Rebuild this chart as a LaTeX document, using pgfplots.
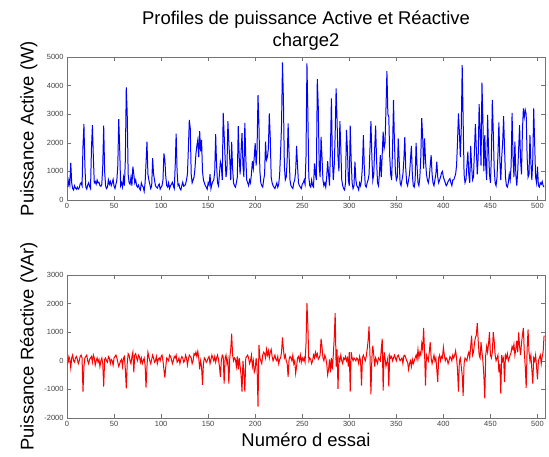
\documentclass[border=0pt]{standalone}
\usepackage{fontspec}
\setmainfont{Liberation Sans}
\usepackage{pgfplots}
\usepackage{pgfplotstable}
\pgfplotsset{compat=1.18}

% puissance active (W), essais 1..507
\pgfplotstableread[header=false,row sep=\\]{
450\\ 700\\ 520\\ 1300\\ 600\\ 400\\ 350\\ 500\\ 420\\ 380\\
450\\ 380\\ 420\\ 560\\ 600\\ 500\\ 1900\\ 2650\\ 1200\\ 450\\
380\\ 520\\ 600\\ 480\\ 400\\ 1800\\ 2620\\ 1500\\ 600\\ 650\\
550\\ 700\\ 600\\ 620\\ 500\\ 480\\ 550\\ 1200\\ 2600\\ 1000\\
500\\ 400\\ 450\\ 700\\ 550\\ 650\\ 500\\ 600\\ 720\\ 480\\
400\\ 550\\ 700\\ 1200\\ 2830\\ 1800\\ 500\\ 600\\ 450\\ 780\\
500\\ 1400\\ 3940\\ 3000\\ 900\\ 600\\ 550\\ 800\\ 500\\ 1170\\
900\\ 600\\ 700\\ 500\\ 450\\ 520\\ 400\\ 350\\ 600\\ 500\\
450\\ 300\\ 600\\ 1300\\ 2040\\ 900\\ 700\\ 550\\ 400\\ 500\\
1460\\ 900\\ 700\\ 500\\ 450\\ 420\\ 500\\ 560\\ 380\\ 450\\
500\\ 700\\ 1630\\ 1400\\ 800\\ 500\\ 450\\ 600\\ 400\\ 500\\
550\\ 620\\ 500\\ 400\\ 1200\\ 2320\\ 1000\\ 500\\ 550\\ 400\\
350\\ 500\\ 620\\ 480\\ 500\\ 550\\ 700\\ 900\\ 1800\\ 2800\\
2500\\ 900\\ 600\\ 700\\ 800\\ 1100\\ 1600\\ 1900\\ 2100\\ 1500\\
2410\\ 1700\\ 2100\\ 1000\\ 700\\ 600\\ 500\\ 450\\ 380\\ 600\\
520\\ 900\\ 400\\ 550\\ 650\\ 700\\ 1000\\ 2300\\ 1200\\ 600\\
500\\ 900\\ 1340\\ 1200\\ 700\\ 3050\\ 2300\\ 1500\\ 800\\ 1100\\
2760\\ 2000\\ 1400\\ 700\\ 2030\\ 1100\\ 600\\ 500\\ 450\\ 600\\
800\\ 2580\\ 1500\\ 900\\ 1700\\ 2340\\ 1200\\ 800\\ 2700\\ 1500\\
700\\ 600\\ 500\\ 700\\ 600\\ 900\\ 1360\\ 1100\\ 1500\\ 1990\\
1200\\ 1800\\ 3670\\ 2600\\ 1000\\ 600\\ 500\\ 450\\ 700\\ 900\\
2040\\ 1400\\ 1500\\ 1800\\ 3030\\ 2200\\ 800\\ 600\\ 500\\ 450\\
400\\ 500\\ 600\\ 450\\ 550\\ 900\\ 1700\\ 2620\\ 4810\\ 3500\\
1200\\ 700\\ 800\\ 1400\\ 2680\\ 1600\\ 700\\ 500\\ 450\\ 400\\
600\\ 700\\ 1000\\ 1890\\ 1200\\ 600\\ 500\\ 450\\ 400\\ 550\\
600\\ 700\\ 550\\ 1500\\ 4780\\ 3000\\ 800\\ 500\\ 450\\ 700\\
500\\ 450\\ 1280\\ 900\\ 700\\ 4230\\ 3320\\ 1200\\ 800\\ 2210\\
1500\\ 700\\ 500\\ 600\\ 450\\ 800\\ 1360\\ 900\\ 500\\ 1800\\
3550\\ 1500\\ 700\\ 1200\\ 2300\\ 3900\\ 2790\\ 1500\\ 1000\\ 2760\\
1800\\ 700\\ 500\\ 400\\ 350\\ 600\\ 2450\\ 1800\\ 700\\ 500\\
2600\\ 1400\\ 600\\ 400\\ 500\\ 1340\\ 700\\ 500\\ 450\\ 350\\
600\\ 500\\ 700\\ 1200\\ 2270\\ 1100\\ 500\\ 450\\ 600\\ 700\\
900\\ 1800\\ 2760\\ 1500\\ 700\\ 900\\ 1800\\ 2600\\ 1400\\ 600\\
500\\ 900\\ 1570\\ 800\\ 1600\\ 2390\\ 1800\\ 2000\\ 3200\\ 4510\\
3000\\ 2910\\ 1500\\ 900\\ 700\\ 1800\\ 3500\\ 2000\\ 1000\\ 700\\
800\\ 2150\\ 1400\\ 600\\ 500\\ 700\\ 900\\ 1400\\ 2210\\ 1100\\
600\\ 500\\ 700\\ 900\\ 1400\\ 1890\\ 900\\ 500\\ 450\\ 700\\
2000\\ 1200\\ 600\\ 500\\ 800\\ 1500\\ 2860\\ 2200\\ 1100\\ 2150\\
1400\\ 900\\ 700\\ 600\\ 800\\ 1200\\ 1570\\ 900\\ 600\\ 500\\
700\\ 900\\ 1340\\ 800\\ 600\\ 700\\ 800\\ 950\\ 1000\\ 800\\
700\\ 600\\ 500\\ 550\\ 650\\ 700\\ 750\\ 600\\ 500\\ 700\\
700\\ 800\\ 900\\ 1200\\ 2000\\ 3030\\ 2390\\ 1500\\ 2500\\ 4720\\
2800\\ 900\\ 600\\ 700\\ 1200\\ 1690\\ 900\\ 600\\ 1890\\ 1200\\
700\\ 800\\ 1700\\ 2650\\ 1800\\ 900\\ 1500\\ 3350\\ 2400\\ 1200\\
4100\\ 2800\\ 1000\\ 2270\\ 1200\\ 700\\ 2980\\ 1800\\ 900\\ 600\\
1500\\ 3500\\ 2390\\ 1100\\ 600\\ 500\\ 800\\ 1600\\ 2710\\ 1400\\
700\\ 1500\\ 2000\\ 2930\\ 1800\\ 800\\ 500\\ 450\\ 600\\ 900\\
700\\ 1200\\ 3050\\ 1500\\ 800\\ 2040\\ 900\\ 500\\ 1000\\ 1800\\
2620\\ 1400\\ 900\\ 2400\\ 3200\\ 2900\\ 3150\\ 3000\\ 1500\\ 800\\
900\\ 2270\\ 1300\\ 700\\ 1400\\ 3200\\ 2000\\ 800\\ 600\\ 1170\\
500\\ 450\\ 600\\ 550\\ 650\\ 500\\ 450\\
}\Ptab

% puissance reactive (VAr), essais 1..507
\pgfplotstableread[header=false,row sep=\\]{
-100\\ 150\\ 50\\ -250\\ 100\\ 200\\ 0\\ -50\\ 100\\ 150\\
50\\ -100\\ 0\\ 150\\ 200\\ 100\\ -1080\\ -200\\ 100\\ 150\\
200\\ 0\\ -100\\ 50\\ 100\\ 150\\ -50\\ 200\\ 100\\ -150\\
0\\ 100\\ -50\\ 50\\ -200\\ 0\\ 100\\ -100\\ -900\\ 50\\
100\\ 0\\ -50\\ 150\\ 100\\ -100\\ 50\\ 0\\ -150\\ 100\\
150\\ 200\\ 100\\ -50\\ -200\\ -100\\ 0\\ 50\\ -200\\ 100\\
150\\ -300\\ -960\\ -100\\ 250\\ 200\\ 0\\ -100\\ 150\\ 300\\
-400\\ 200\\ 250\\ 100\\ 0\\ 200\\ 150\\ -50\\ 100\\ -100\\
0\\ 100\\ -150\\ -940\\ -200\\ 300\\ 150\\ 0\\ -100\\ 50\\
200\\ 100\\ -50\\ 0\\ 150\\ -100\\ 50\\ 100\\ 0\\ 150\\
200\\ 0\\ -300\\ -590\\ -200\\ 100\\ 50\\ 0\\ 200\\ 150\\
50\\ -100\\ 0\\ 150\\ 100\\ 200\\ -50\\ 0\\ 100\\ -100\\
50\\ 150\\ 100\\ -50\\ 0\\ 200\\ 100\\ -150\\ 50\\ 200\\
150\\ 100\\ -100\\ 0\\ 250\\ 200\\ 300\\ 150\\ 330\\ 100\\
-300\\ 0\\ -200\\ -840\\ -100\\ 100\\ 50\\ -50\\ 0\\ 100\\
150\\ -100\\ 50\\ 200\\ 100\\ 0\\ 150\\ -50\\ 100\\ 200\\
50\\ -200\\ -560\\ 0\\ 200\\ 150\\ -800\\ 100\\ 200\\ -100\\
50\\ -800\\ 100\\ 400\\ 950\\ 200\\ 0\\ 100\\ 50\\ -200\\
150\\ -300\\ 100\\ -200\\ -500\\ -1080\\ 0\\ -400\\ -1080\\ 100\\
150\\ 200\\ 100\\ -100\\ 0\\ 200\\ -200\\ 0\\ -400\\ -300\\
100\\ -200\\ -1600\\ 560\\ 100\\ 0\\ -100\\ 200\\ 300\\ 250\\
100\\ 400\\ 200\\ 350\\ 100\\ 300\\ 400\\ 150\\ 0\\ 100\\
200\\ 50\\ 0\\ 150\\ -100\\ 50\\ 100\\ 300\\ 820\\ 400\\
100\\ 200\\ 0\\ -100\\ -560\\ 50\\ 150\\ 100\\ 0\\ 200\\
-100\\ 0\\ -440\\ -200\\ 100\\ 150\\ 0\\ 200\\ -50\\ 100\\
0\\ 100\\ -50\\ 600\\ 2020\\ 1200\\ 0\\ 100\\ 50\\ -100\\
0\\ 200\\ 100\\ 300\\ 150\\ 250\\ 50\\ 100\\ 200\\ 770\\
500\\ 100\\ 0\\ 200\\ 100\\ -100\\ -490\\ -300\\ 50\\ -400\\
100\\ -300\\ 200\\ 800\\ 1670\\ -200\\ 400\\ -980\\ 100\\ 0\\
200\\ 0\\ -100\\ 100\\ 50\\ 150\\ 0\\ 100\\ -200\\ 300\\
-1080\\ 300\\ 100\\ 0\\ 100\\ 50\\ 0\\ 100\\ 50\\ -100\\
150\\ 0\\ -870\\ 100\\ 200\\ 100\\ 0\\ 150\\ 400\\ 700\\
1200\\ 200\\ -1170\\ 100\\ 530\\ 200\\ -200\\ 100\\ 0\\ -100\\
100\\ 50\\ 0\\ 400\\ 770\\ -1040\\ 300\\ 100\\ -200\\ -50\\
100\\ -900\\ 200\\ 100\\ 150\\ 0\\ 100\\ 200\\ 100\\ 0\\
150\\ 200\\ 100\\ 0\\ 50\\ 100\\ -100\\ 180\\ 200\\ 100\\
0\\ -50\\ -300\\ -100\\ 0\\ -200\\ 50\\ -100\\ 0\\ 100\\
200\\ 50\\ 400\\ 100\\ 300\\ 200\\ 600\\ 400\\ 1150\\ 300\\
-870\\ 200\\ 100\\ 0\\ 300\\ 650\\ 100\\ -100\\ 50\\ 200\\
0\\ 100\\ -300\\ -740\\ 100\\ 200\\ 0\\ 150\\ 100\\ 470\\
200\\ 0\\ 100\\ 50\\ -100\\ 0\\ 150\\ 100\\ 0\\ 200\\
100\\ 200\\ 350\\ 100\\ -300\\ -1080\\ 0\\ 100\\ -200\\ -500\\
-1230\\ -100\\ 100\\ 50\\ 0\\ 200\\ 300\\ 100\\ 500\\ 880\\
200\\ 300\\ 600\\ 800\\ 900\\ 1320\\ 700\\ 200\\ 100\\ 650\\
300\\ 0\\ -500\\ -1310\\ 200\\ 500\\ 300\\ 600\\ 1000\\ 200\\
100\\ 300\\ 1000\\ 700\\ 200\\ 0\\ 100\\ 200\\ -400\\ -100\\
-1150\\ 200\\ 0\\ 100\\ -740\\ 200\\ 100\\ 250\\ 0\\ 100\\
200\\ 300\\ 500\\ 400\\ 580\\ 200\\ 400\\ 700\\ 300\\ 990\\
500\\ 200\\ 600\\ 900\\ 1150\\ 300\\ -200\\ -950\\ 400\\ 1100\\
300\\ 0\\ 200\\ -300\\ -800\\ 100\\ 0\\ 200\\ -200\\ -650\\
0\\ 100\\ 200\\ -100\\ 150\\ 300\\ 880\\
}\Qtab

\pgfplotsset{
  every axis/.append style={
    width=478bp, height=143bp, scale only axis,
    xmin=0, xmax=508,
    xtick={0,50,...,500},
    tick align=inside,
    axis line style={black!55},
    every tick/.style={black!55},
    tick label style={font=\fontsize{7.5}{8}\selectfont, text=black!75},
    label style={font=\fontsize{18.5}{22}\selectfont},
    /pgf/number format/assume math mode=true,
    /pgf/number format/1000 sep={},
    scaled ticks=false,
    ylabel style={at={(axis description cs:-0.08,0.5)}, anchor=center, rotate=0},
  },
}

\begin{document}
\begin{tikzpicture}
\begin{axis}[
  name=top,
  ymin=0, ymax=5000,
  ytick={0,1000,...,5000},
  ylabel={Puissance Active (W)},
  title={Profiles de puissance Active et Réactive\\charge2},
  title style={font=\fontsize{18.5}{22}\selectfont, align=center,
    at={(axis description cs:0.5,1)}, anchor=south, yshift=-3bp},
]
\addplot[color=blue, line width=1pt] table[x expr=\coordindex+1, y index=0] {\Ptab};
\end{axis}

\begin{axis}[
  at={(top.south west)}, yshift=-75bp, anchor=north west,
  ymin=-2000, ymax=3000,
  ytick={-2000,-1000,...,3000},
  ylabel={Puissance Réactive (VAr)},
  xlabel={Numéro d essai},
  xlabel style={at={(axis description cs:0.5,-0.155)}, anchor=center},
]
\addplot[color=red, line width=1pt] table[x expr=\coordindex+1, y index=0] {\Qtab};
\end{axis}

\path (top.south west) ++(-67bp,200bp) rectangle ++(549bp,-457bp);
\end{tikzpicture}
\end{document}
